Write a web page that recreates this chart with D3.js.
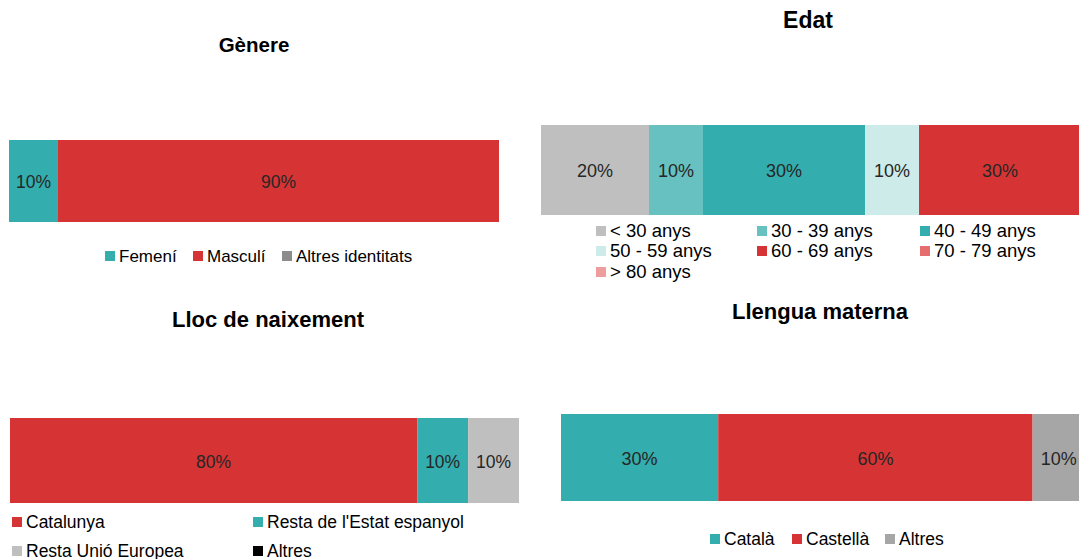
<!DOCTYPE html>
<html>
<head>
<meta charset="utf-8">
<script src="https://cdn.jsdelivr.net/npm/d3@7"></script>
<style>
  body { margin: 0; background: #fff; }
  svg { display: block; font-family: "Liberation Sans", Arial, sans-serif; }
</style>
</head>
<body>
<svg id="chart"></svg>
<script>
// Data for each panel
var genereCats = ["Femení", "Masculí", "Altres identitats"];
var genereVals = [10, 90, 0];
var genereCols = ["#33ADAD", "#D63434", "#8C8C8C"];

var edatCats = ["< 30 anys", "30 - 39 anys", "40 - 49 anys", "50 - 59 anys", "60 - 69 anys", "70 - 79 anys", "> 80 anys"];
var edatVals = [20, 10, 30, 10, 30, 0, 0];
var edatCols = ["#BFBFBF", "#66C1C0", "#33ADAD", "#CCEBE9", "#D63434", "#E56D6D", "#EE9D9D"];

var llocCats = ["Catalunya", "Resta de l'Estat espanyol", "Resta Unió Europea", "Altres"];
var llocVals = [80, 10, 10, 0];
var llocCols = ["#D63434", "#33ADAD", "#BFBFBF", "#000000"];

var llenguaCats = ["Català", "Castellà", "Altres"];
var llenguaVals = [30, 60, 10];
var llenguaCols = ["#33ADAD", "#D63434", "#A6A6A6"];

var W = 1079, H = 559;
var svg = d3.select("#chart").attr("width", W).attr("height", H);

//Panel layout: bar box, title position, font sizes, legend layout.
var panels = [
  { title: "Gènere", cats: genereCats, vals: genereVals, cols: genereCols,
    x0: 9, x1: 499, y0: 140, y1: 222, tx: 254, ty: 52, tfs: 20.5, vfs: 17.5, lfs: 17,
    legend: { x: [105, 193, 282], y: [262] } },
  { title: "Edat", cats: edatCats, vals: edatVals, cols: edatCols,
    x0: 541, x1: 1081, y0: 125, y1: 215, tx: 808, ty: 28, tfs: 23, vfs: 18, lfs: 18.5,
    legend: { x: [596, 757, 920], y: [237, 257, 278] } },
  { title: "Lloc de naixement", cats: llocCats, vals: llocVals, cols: llocCols,
    x0: 10, x1: 519, y0: 418, y1: 503, tx: 268, ty: 327, tfs: 22, vfs: 17.5, lfs: 17.5,
    legend: { x: [12, 253], y: [528, 557] } },
  { title: "Llengua materna", cats: llenguaCats, vals: llenguaVals, cols: llenguaCols,
    x0: 561, x1: 1085, y0: 414, y1: 501, tx: 820, ty: 319, tfs: 22, vfs: 18, lfs: 17.5,
    legend: { x: [710, 792, 885], y: [545] } }
];

panels.forEach(function(p) {
  var g = svg.append("g");
  var x = d3.scaleLinear().domain([0, 100]).range([p.x0, p.x1]);
  var ends = Array.from(d3.cumsum(p.vals));
  var segs = p.vals.map(function(v, i) {
    return { cat: p.cats[i], v: v, col: p.cols[i], start: ends[i] - v, end: ends[i] };
  });

  //Title
  g.append("text")
    .attr("x", p.tx).attr("y", p.ty)
    .attr("text-anchor", "middle")
    .attr("font-size", p.tfs).attr("font-weight", "bold")
    .attr("fill", "#000")
    .text(p.title);

  //Stacked bar segments
  g.selectAll("rect.seg")
    .data(segs.filter(function(d) { return d.v > 0; }))
    .enter().append("rect")
      .attr("class", "seg")
      .attr("x", function(d) { return x(d.start); })
      .attr("width", function(d) { return x(d.end) - x(d.start); })
      .attr("y", p.y0)
      .attr("height", p.y1 - p.y0)
      .attr("fill", function(d) { return d.col; });

  //Value labels
  g.selectAll("text.val")
    .data(segs.filter(function(d) { return d.v > 0; }))
    .enter().append("text")
      .attr("class", "val")
      .attr("x", function(d) { return (x(d.start) + x(d.end)) / 2; })
      .attr("y", (p.y0 + p.y1) / 2 + 7)
      .attr("text-anchor", "middle")
      .attr("font-size", p.vfs)
      .attr("fill", "#262626")
      .text(function(d) { return d.v + "%"; });

  //Legend
  var ncol = p.legend.x.length;
  var items = g.selectAll("g.leg")
    .data(segs)
    .enter().append("g")
      .attr("class", "leg")
      .attr("transform", function(d, i) {
        return "translate(" + p.legend.x[i % ncol] + "," + p.legend.y[Math.floor(i / ncol)] + ")";
      });
  items.append("rect")
    .attr("x", 0).attr("y", -11)
    .attr("width", 10).attr("height", 10)
    .attr("fill", function(d) { return d.col; });
  items.append("text")
    .attr("x", 14).attr("y", 0)
    .attr("font-size", p.lfs)
    .attr("fill", "#000")
    .text(function(d) { return d.cat; });
});
</script>
</body>
</html>
